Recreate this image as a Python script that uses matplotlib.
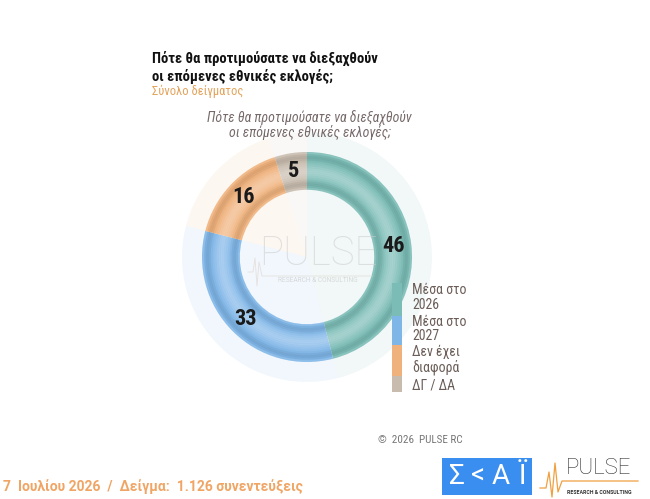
import math
import matplotlib
matplotlib.use("Agg")
import matplotlib.pyplot as plt
from matplotlib.patches import Rectangle

COND = ['Roboto Condensed', 'Roboto', 'DejaVu Sans']
REG = ['Roboto', 'DejaVu Sans']
plt.rcParams['font.family'] = COND

# Data
categories = ["Μέσα στο\n2026", "Μέσα στο\n2027", "Δεν έχει\nδιαφορά", "ΔΓ / ΔΑ"]
values = [46, 33, 16, 5]
colors = ["#7bbcb6", "#7fb6e8", "#f0b27c", "#c8bcae"]
title_lines = ["Πότε θα προτιμούσατε να διεξαχθούν", "οι επόμενες εθνικές εκλογές;"]
subtitle = "Σύνολο δείγματος"
caption_lines = ["Πότε θα προτιμούσατε να διεξαχθούν", "οι επόμενες εθνικές εκλογές;"]
footer_left = "7  Ιουλίου 2026  /  Δείγμα:  1.126 συνεντεύξεις"
footer_copy = "©  2026  PULSE RC"

W, H = 650, 499
fig = plt.figure(figsize=(W / 100, H / 100), dpi=100)
fig.patch.set_facecolor("white")


def fx(x):
    return x / W


def fy(y):
    return 1 - y / H


# Donut axes
cx, cy, R = 307, 257, 105
half = 1.25 * R
ax = fig.add_axes([fx(cx - half), fy(cy + half), 2 * half / W, 2 * half / H])
ax.set_xlim(-1.25, 1.25)
ax.set_ylim(-1.25, 1.25)
ax.axis("off")

pie_kw = dict(startangle=90, counterclock=False)
# faint background pie
ax.pie(values, colors=colors, radius=1.19,
       wedgeprops=dict(width=1.19, alpha=0.10, linewidth=0), **pie_kw)
# main ring
r_out, ring_w = 1.0, 0.36
wedges, _ = ax.pie(values, colors=colors, radius=r_out,
                   wedgeprops=dict(width=ring_w, linewidth=0), **pie_kw)
# tube-like shading with thin concentric overlays
n = 18
for i in range(n):
    t = (i + 0.5) / n
    rr = r_out - i * ring_w / n
    a = 0.30 * math.exp(-((t - 0.52) / 0.2) ** 2) + 0.15 * math.exp(-(t / 0.05) ** 2) \
        + 0.15 * math.exp(-((1 - t) / 0.05) ** 2)
    if a > 0.01:
        ax.pie(values, colors=["white"] * len(values), radius=rr,
               wedgeprops=dict(width=ring_w / n + 0.002, alpha=a, linewidth=0), **pie_kw)
    edge = 0.08 * (math.exp(-((t - 0.15) / 0.08) ** 2) + math.exp(-((t - 0.85) / 0.08) ** 2))
    if edge > 0.01:
        ax.pie(values, colors=["black"] * len(values), radius=rr,
               wedgeprops=dict(width=ring_w / n + 0.002, alpha=edge, linewidth=0), **pie_kw)

# value labels
for v, w in zip(values, wedges):
    mid = math.radians((w.theta1 + w.theta2) / 2)
    r = 0.83
    ax.text(r * math.cos(mid), r * math.sin(mid), f"{v}", ha="center", va="center",
            fontsize=16, fontweight="bold", color="#1a1a1a")

# watermark
fig.text(fx(318), fy(254), "PULSE", ha="center", va="center", fontsize=29,
         color="#cccccc", alpha=0.55, fontweight="light", family=REG)
fig.text(fx(318), fy(281), "RESEARCH & CONSULTING", ha="center", va="center",
         fontsize=4.8, color="#cccccc", alpha=0.7, family=REG)
fig.lines.append(plt.Line2D([fx(248), fx(253), fx(255), fx(257), fx(259), fx(262), fx(372)],
                            [fy(272), fy(272), fy(258), fy(286), fy(262), fy(276), fy(276)],
                            transform=fig.transFigure, color="#e0d6d0", lw=0.6, alpha=0.7))

# Titles
fig.text(fx(152), fy(58), title_lines[0], ha="left", va="center", fontsize=10.5,
         fontweight="bold", color="#111111")
fig.text(fx(152), fy(76), title_lines[1], ha="left", va="center", fontsize=10.5,
         fontweight="bold", color="#111111")
fig.text(fx(152), fy(91), subtitle, ha="left", va="center", fontsize=9,
         color="#e3a35b")
fig.text(fx(309.5), fy(118), caption_lines[0], ha="center", va="center", fontsize=10,
         style="italic", color="#76696a")
fig.text(fx(309.5), fy(133), caption_lines[1], ha="center", va="center", fontsize=10,
         style="italic", color="#76696a")

# Legend
legend_boxes = [(283, 316), (316, 345), (345, 376), (376, 392)]
line_y = [[290, 305], [322, 336], [352, 367], [385]]
for (y0, y1), c, lab, ys in zip(legend_boxes, colors, categories, line_y):
    fig.patches.append(Rectangle((fx(392), fy(y1)), 10 / W, (y1 - y0) / H,
                                 transform=fig.transFigure, color=c, lw=0))
    for txt, yy in zip(lab.split("\n"), ys):
        fig.text(fx(412), fy(yy), txt, ha="left", va="center", fontsize=10,
                 color="#6b5d58")

# Footer
fig.text(fx(378), fy(440), footer_copy, ha="left", va="center", fontsize=8,
         color="#777777")
fig.text(fx(3), fy(487), footer_left, ha="left", va="center", fontsize=10,
         fontweight="bold", color="#f0a565", family=REG)

# Logos
fig.patches.append(Rectangle((fx(442), fy(495)), 90 / W, 37 / H,
                             transform=fig.transFigure, color="#3a8ef0", lw=0))
for ch, xx in zip(["Σ", "<", "Α", "Ϊ"], [457, 478, 501, 522]):
    fig.text(fx(xx), fy(476), ch, ha="center", va="center", fontsize=20,
             color="white", fontweight="normal", family=REG)
fig.text(fx(599), fy(469), "PULSE", ha="center", va="center", fontsize=16,
         color="#333333", fontweight="light", family=REG)
fig.text(fx(599), fy(492), "RESEARCH & CONSULTING", ha="center", va="center",
         fontsize=3.8, color="#333333", fontweight="bold", family=REG)
fig.lines.append(plt.Line2D([fx(540), fx(546), fx(549), fx(552), fx(555), fx(558), fx(562), fx(638)],
                            [fy(488), fy(488), fy(472), fy(497), fy(463), fy(492), fy(481), fy(481)],
                            transform=fig.transFigure, color="#f0a040", lw=0.9))

fig.savefig("out.png", dpi=100)
